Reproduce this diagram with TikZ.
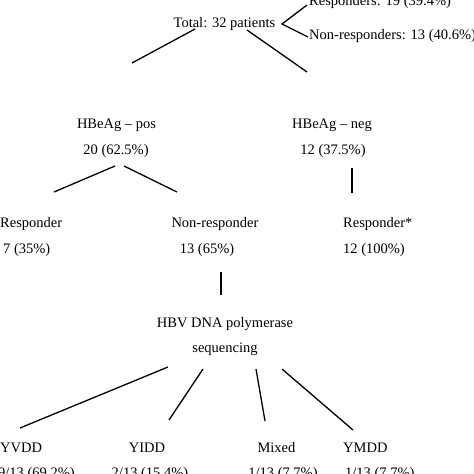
\documentclass[tikz,border=0pt]{standalone}
\usepackage{fontspec}
\setmainfont{Liberation Serif}
\begin{document}
\begin{tikzpicture}[x=1pt,y=-1pt,
  lbl/.style={inner sep=0pt,font=\fontsize{14.5}{17}\selectfont},
  conn/.style={line width=1.3pt,black}]
\clip (0,0) rectangle (474,474);
\fill[white] (0,0) rectangle (474,474);
% texts
\node[lbl,anchor=base] (total) at (224.5,27) {Total: 32 patients};
\node[lbl,anchor=base west] (resp) at (309,5) {Responders: 19 (39.4\%)};
\node[lbl,anchor=base west] (nonresp) at (309,39) {Non-responders: 13 (40.6\%)};
\node[lbl,anchor=base] (pos) at (116.5,128) {HBeAg -- pos};
\node[lbl,anchor=base] (posn) at (116,154) {20 (62.5\%)};
\node[lbl,anchor=base] (neg) at (332,128) {HBeAg -- neg};
\node[lbl,anchor=base] (negn) at (333,154) {12 (37.5\%)};
\node[lbl,anchor=base west] (r1) at (0,227) {Responder};
\node[lbl,anchor=base west] (r1n) at (3,253) {7 (35\%)};
\node[lbl,anchor=base] (nr) at (215,227) {Non-responder};
\node[lbl,anchor=base] (nrn) at (207,253) {13 (65\%)};
\node[lbl,anchor=base west] (r2) at (343,227) {Responder*};
\node[lbl,anchor=base west] (r2n) at (343,253) {12 (100\%)};
\node[lbl,anchor=base] (hbv) at (225,327) {HBV DNA polymerase};
\node[lbl,anchor=base] (seq) at (225,352) {sequencing};
\node[lbl,anchor=base west] (yvdd) at (0,452) {YVDD};
\node[lbl,anchor=base west] (yvddn) at (-2,477) {9/13 (69.2\%)};
\node[lbl,anchor=base] (yidd) at (147,452) {YIDD};
\node[lbl,anchor=base] (yiddn) at (150,477) {2/13 (15.4\%)};
\node[lbl,anchor=base] (mixed) at (276.5,452) {Mixed};
\node[lbl,anchor=base] (mixedn) at (283,477) {1/13 (7.7\%)};
\node[lbl,anchor=base west] (ymdd) at (343,452) {YMDD};
\node[lbl,anchor=base west] (ymddn) at (345,477) {1/13 (7.7\%)};
% connector end points
\coordinate (bA) at (307,5);
\coordinate (bV) at (282,24);
\coordinate (bB) at (308,37);
\coordinate (tL1) at (195,29); \coordinate (tL2) at (132,63);
\coordinate (tR1) at (247,30); \coordinate (tR2) at (307,72);
\coordinate (pL1) at (115,166); \coordinate (pL2) at (54,192);
\coordinate (pR1) at (124,166); \coordinate (pR2) at (177,192);
\coordinate (nV1) at (352,168); \coordinate (nV2) at (352,193);
\coordinate (qV1) at (221,272); \coordinate (qV2) at (221,295);
\coordinate (h11) at (168,367); \coordinate (h12) at (20,428);
\coordinate (h21) at (203,369); \coordinate (h22) at (169,420);
\coordinate (h31) at (256,369); \coordinate (h32) at (265,421);
\coordinate (h41) at (282,369); \coordinate (h42) at (353,430);
% connectors
\draw[conn] (bA) -- (bV) -- (bB);
\draw[conn] (tL1) -- (tL2);
\draw[conn] (tR1) -- (tR2);
\draw[conn] (pL1) -- (pL2);
\draw[conn] (pR1) -- (pR2);
\draw[conn] (nV1) -- (nV2);
\draw[conn] (qV1) -- (qV2);
\draw[conn] (h11) -- (h12);
\draw[conn] (h21) -- (h22);
\draw[conn] (h31) -- (h32);
\draw[conn] (h41) -- (h42);
\end{tikzpicture}
\end{document}
